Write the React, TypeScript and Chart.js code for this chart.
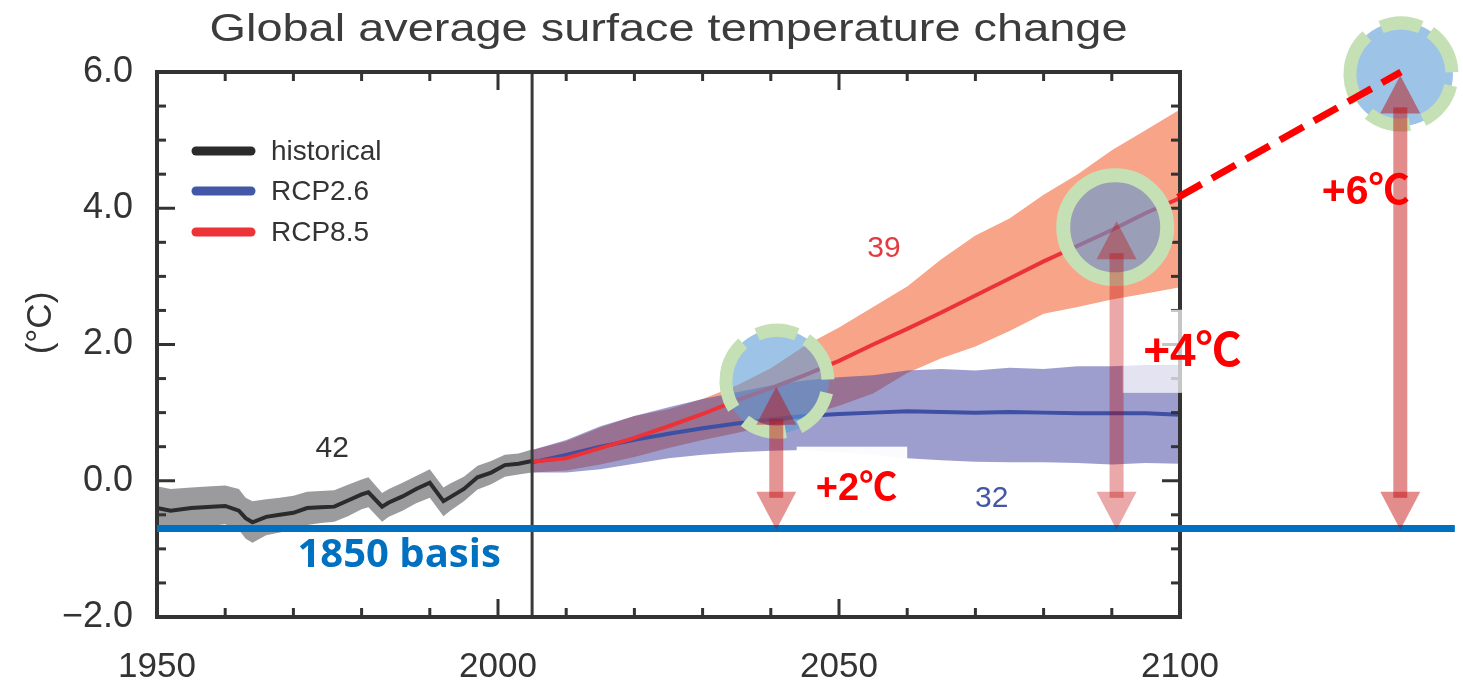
import React, { useEffect, useRef } from "react";
import { Chart, registerables } from "chart.js";

Chart.register(...registerables);

// ---------------- data ----------------
const histYears = [1950, 1952, 1955, 1958, 1960, 1962, 1963, 1964, 1966, 1968, 1970, 1972, 1974, 1976, 1978, 1980, 1981, 1983, 1984, 1986, 1988, 1990, 1992, 1993, 1995, 1997, 1999, 2001, 2003, 2005];
const histMean = [-0.40, -0.44, -0.40, -0.38, -0.37, -0.44, -0.55, -0.61, -0.53, -0.50, -0.47, -0.40, -0.39, -0.38, -0.29, -0.20, -0.17, -0.38, -0.32, -0.23, -0.12, -0.03, -0.30, -0.24, -0.12, 0.05, 0.12, 0.23, 0.25, 0.29];
const histHigh = [-0.08, -0.12, -0.10, -0.08, -0.07, -0.12, -0.25, -0.30, -0.27, -0.25, -0.22, -0.16, -0.15, -0.14, -0.06, 0.02, 0.05, -0.18, -0.12, -0.03, 0.07, 0.17, -0.10, -0.04, 0.06, 0.22, 0.29, 0.38, 0.40, 0.46];
const histLow = [-0.72, -0.72, -0.68, -0.66, -0.64, -0.72, -0.85, -0.91, -0.80, -0.76, -0.72, -0.65, -0.62, -0.60, -0.52, -0.42, -0.39, -0.60, -0.53, -0.44, -0.33, -0.25, -0.52, -0.44, -0.30, -0.13, -0.05, 0.06, 0.09, 0.12];

const projYears = [2005, 2010, 2015, 2020, 2025, 2030, 2035, 2040, 2045, 2050, 2055, 2060, 2065, 2070, 2075, 2080, 2085, 2090, 2095, 2100];
const rcp85Mean = [0.28, 0.33, 0.48, 0.63, 0.80, 0.98, 1.18, 1.36, 1.55, 1.76, 2.00, 2.23, 2.47, 2.72, 2.97, 3.22, 3.45, 3.68, 3.93, 4.15];
const rcp85High = [0.45, 0.58, 0.78, 0.95, 1.05, 1.20, 1.40, 1.65, 1.98, 2.25, 2.55, 2.85, 3.25, 3.60, 3.85, 4.20, 4.50, 4.85, 5.15, 5.45];
const rcp85Low = [0.12, 0.15, 0.24, 0.35, 0.48, 0.60, 0.70, 0.82, 0.95, 1.10, 1.28, 1.58, 1.80, 1.97, 2.20, 2.45, 2.55, 2.66, 2.75, 2.84];
const rcp26Mean = [0.27, 0.38, 0.50, 0.60, 0.69, 0.77, 0.84, 0.90, 0.95, 0.98, 1.00, 1.02, 1.01, 1.00, 1.01, 1.00, 0.99, 0.99, 0.99, 0.97];
const rcp26High = [0.45, 0.60, 0.80, 0.95, 1.08, 1.20, 1.30, 1.40, 1.47, 1.52, 1.55, 1.62, 1.64, 1.62, 1.66, 1.64, 1.68, 1.68, 1.70, 1.70];
const rcp26Low = [0.12, 0.12, 0.17, 0.25, 0.33, 0.38, 0.42, 0.44, 0.45, 0.42, 0.38, 0.33, 0.30, 0.28, 0.27, 0.27, 0.26, 0.24, 0.26, 0.25];

const xTicks = [1950, 2000, 2050, 2100];
const yTicks = [-2, 0, 2, 4, 6];

// ---------------- labels / annotations ----------------
const titleText = "Global average surface temperature change";
const yAxisTitle = "(°C)";
const legendLabels = ["historical", "RCP2.6", "RCP8.5"];
const countLabels = ["42", "39", "32"];
const countYears = [1975.7, 2056.6, 2072.4];
const countValues = [0.35, 3.28, -0.38];
const dividerYear = 2005;
const basisValue = -0.7;
const basisEndYear = 2140.3;
const basisLabel = "1850 basis";
const basisLabelYear = 1985.5;
const basisLabelValue = -1.26;
const targetYears = [2040.9, 2090.5, 2132.4];
const targetValues = [1.46, 3.72, 5.97];
const arrowYears = [2040.8, 2090.7, 2132.3];
const arrowTopValues = [1.38, 3.81, 5.95];
const arrowBottomValue = -0.72;
const warmingLabels = ["+2℃", "+4℃", "+6℃"];
const warmingLabelYears = [2046.6, 2094.6, 2120.8];
const warmingLabelValues = [-0.28, 1.69, 4.06];
const extrapolationYears = [2099.7, 2132.4];
const extrapolationValues = [4.16, 6.0];
const patchYears = [[2043.8, 2060.0], [2091.6, 2100.3]];
const patchValues = [[0.5, 0.24], [2.51, 1.29]];

// ---------------- styles ----------------
const FONT = "'Liberation Sans', Arial, Helvetica, sans-serif";
const SYM_FONT = "'Liberation Sans', Arial, 'Noto Sans CJK SC', 'DejaVu Sans', sans-serif";
const AXIS_COLOR = "#333333";
const HIST_COLOR = "#2b2b2b";
const RCP26_COLOR = "#3d50a3";
const RCP85_COLOR = "#ec3237";
const legendColors = [HIST_COLOR, "#4357a7", "#ee3338"];
const countColors = ["#333333", "#e53a3f", "#4457a5"];
const warmingFonts = [38, 46, 41];
const arrowAlphas = [0.42, 0.34, 0.45];
const targetDashed = [true, false, true];

const pts = (xs: number[], ys: number[]) => xs.map((x, i) => ({ x, y: ys[i] }));

const lineDs = (label: string, xs: number[], ys: number[], color: string) => ({
  label,
  data: pts(xs, ys),
  borderColor: color,
  borderWidth: 4,
  pointRadius: 0,
  pointHitRadius: 0,
  tension: 0,
  fill: false,
});

const bandDs = (label: string, xs: number[], ys: number[], color: string | null) => ({
  label,
  data: pts(xs, ys),
  borderColor: "rgba(0,0,0,0)",
  borderWidth: 0,
  pointRadius: 0,
  pointHitRadius: 0,
  tension: 0,
  backgroundColor: color || "rgba(0,0,0,0)",
  fill: color ? "+1" : false,
});

function drawArrow(ctx: CanvasRenderingContext2D, x: number, yTop: number, yBot: number, alpha: number) {
  const headL = 38;
  const headW = 40;
  const shaftW = 14;
  const overlap = 6;
  ctx.fillStyle = `rgba(192,0,0,${alpha})`;
  ctx.beginPath();
  ctx.moveTo(x, yTop);
  ctx.lineTo(x - headW / 2, yTop + headL);
  ctx.lineTo(x + headW / 2, yTop + headL);
  ctx.closePath();
  ctx.fill();
  ctx.beginPath();
  ctx.moveTo(x, yBot);
  ctx.lineTo(x - headW / 2, yBot - headL);
  ctx.lineTo(x + headW / 2, yBot - headL);
  ctx.closePath();
  ctx.fill();
  const s0 = yTop + headL - overlap;
  const s1 = yBot - headL + overlap;
  ctx.fillRect(x - shaftW / 2, s0, shaftW, s1 - s0);
}

const dashSegments = [[-113, -67], [-55, -2], [13, 64], [80, 129], [148, 228]];

function drawTarget(ctx: CanvasRenderingContext2D, cx: number, cy: number, dashed: boolean) {
  ctx.fillStyle = "rgba(91,155,213,0.6)";
  ctx.beginPath();
  ctx.arc(cx, cy, dashed ? 52 : 50, 0, Math.PI * 2);
  ctx.fill();
  ctx.strokeStyle = "#C5E0B4";
  ctx.lineCap = "butt";
  if (dashed) {
    ctx.lineWidth = 13;
    for (const [a0, a1] of dashSegments) {
      ctx.beginPath();
      ctx.arc(cx, cy, 51, (a0 * Math.PI) / 180, (a1 * Math.PI) / 180);
      ctx.stroke();
    }
  } else {
    ctx.lineWidth = 14;
    ctx.beginPath();
    ctx.arc(cx, cy, 52, 0, Math.PI * 2);
    ctx.stroke();
  }
}

const overlayPlugin = {
  id: "overlay",
  afterDraw(chart: any) {
    const { ctx, chartArea: ca, scales } = chart;
    const X = (v: number) => scales.x.getPixelForValue(v);
    const Y = (v: number) => scales.y.getPixelForValue(v);
    const seg = (x0: number, y0: number, x1: number, y1: number) => {
      ctx.beginPath();
      ctx.moveTo(x0, y0);
      ctx.lineTo(x1, y1);
      ctx.stroke();
    };
    ctx.save();

    // scenario divider
    ctx.strokeStyle = "#3a3a3a";
    ctx.lineWidth = 3;
    seg(X(dividerYear), ca.top, X(dividerYear), ca.bottom);

    // frame with inward ticks
    ctx.strokeStyle = AXIS_COLOR;
    ctx.lineWidth = 4;
    ctx.strokeRect(ca.left, ca.top, ca.right - ca.left, ca.bottom - ca.top);
    ctx.lineWidth = 3;
    const yMin = yTicks[0];
    const yMax = yTicks[yTicks.length - 1];
    for (let v = yMin; v <= yMax + 1e-9; v += 0.5) {
      const py = Y(v);
      const len = Math.abs(v % 2) < 1e-9 ? 18 : 9;
      seg(ca.left, py, ca.left + len, py);
      seg(ca.right, py, ca.right - len, py);
    }
    const xMin = xTicks[0];
    const xMax = xTicks[xTicks.length - 1];
    for (let yr = xMin; yr <= xMax; yr += 10) {
      const px = X(yr);
      const len = yr % 50 === 0 ? 18 : 9;
      seg(px, ca.bottom, px, ca.bottom - len);
      seg(px, ca.top, px, ca.top + len);
    }

    // 1850 basis line
    ctx.strokeStyle = "#0070C0";
    ctx.lineWidth = 7;
    seg(ca.left, Y(basisValue), X(basisEndYear), Y(basisValue));

    // white erasure patches
    ctx.fillStyle = "rgba(255,255,255,0.96)";
    ctx.fillRect(X(patchYears[0][0]), Y(patchValues[0][0]), X(patchYears[0][1]) - X(patchYears[0][0]), Y(patchValues[0][1]) - Y(patchValues[0][0]));
    ctx.fillStyle = "rgba(255,255,255,0.72)";
    ctx.fillRect(X(patchYears[1][0]), Y(patchValues[1][0]), X(patchYears[1][1]) - X(patchYears[1][0]), Y(patchValues[1][1]) - Y(patchValues[1][0]));

    // target circles
    for (let i = 0; i < targetYears.length; i++) {
      drawTarget(ctx, X(targetYears[i]), Y(targetValues[i]), targetDashed[i]);
    }

    // arrows
    for (let i = 0; i < arrowYears.length; i++) {
      drawArrow(ctx, X(arrowYears[i]), Y(arrowTopValues[i]), Y(arrowBottomValue), arrowAlphas[i]);
    }

    // dashed extrapolation
    ctx.strokeStyle = "#ff0000";
    ctx.lineWidth = 7;
    ctx.setLineDash([27, 12]);
    seg(X(extrapolationYears[0]), Y(extrapolationValues[0]), X(extrapolationYears[1]), Y(extrapolationValues[1]));
    ctx.setLineDash([]);

    // title
    ctx.fillStyle = "#3c3c3c";
    ctx.font = `38px ${FONT}`;
    ctx.textAlign = "center";
    ctx.textBaseline = "alphabetic";
    const tw = ctx.measureText(titleText).width;
    ctx.save();
    ctx.translate((ca.left + ca.right) / 2, 41);
    ctx.scale(918 / tw, 1);
    ctx.fillText(titleText, 0, 0);
    ctx.restore();

    // y axis title
    ctx.save();
    ctx.translate(41, 323);
    ctx.rotate(-Math.PI / 2);
    ctx.fillStyle = AXIS_COLOR;
    ctx.font = `35px ${FONT}`;
    ctx.textAlign = "center";
    ctx.textBaseline = "middle";
    ctx.fillText(yAxisTitle, 0, 0);
    ctx.restore();

    // legend
    const legendY = [ca.top + 79, ca.top + 119, ca.top + 160];
    ctx.lineCap = "round";
    ctx.lineWidth = 9;
    ctx.font = `28px ${FONT}`;
    ctx.textAlign = "left";
    ctx.textBaseline = "middle";
    for (let i = 0; i < legendLabels.length; i++) {
      ctx.strokeStyle = legendColors[i];
      seg(ca.left + 39, legendY[i], ca.left + 94, legendY[i]);
      ctx.fillStyle = AXIS_COLOR;
      ctx.fillText(legendLabels[i], ca.left + 114, legendY[i] + 1);
    }
    ctx.lineCap = "butt";

    // model counts
    ctx.font = `30px ${FONT}`;
    ctx.textAlign = "center";
    ctx.textBaseline = "alphabetic";
    for (let i = 0; i < countLabels.length; i++) {
      ctx.fillStyle = countColors[i];
      ctx.fillText(countLabels[i], X(countYears[i]), Y(countValues[i]));
    }

    // warming labels
    ctx.fillStyle = "#ff0000";
    ctx.textAlign = "left";
    for (let i = 0; i < warmingLabels.length; i++) {
      ctx.font = `bold ${warmingFonts[i]}px ${SYM_FONT}`;
      ctx.fillText(warmingLabels[i], X(warmingLabelYears[i]), Y(warmingLabelValues[i]));
    }

    // basis label
    ctx.fillStyle = "#0070C0";
    ctx.font = `bold 40px 'Open Sans', ${FONT}`;
    ctx.textAlign = "center";
    ctx.fillText(basisLabel, X(basisLabelYear), Y(basisLabelValue));

    ctx.restore();
  },
};

export default function App() {
  const ref = useRef<HTMLCanvasElement>(null);

  useEffect(() => {
    if (!ref.current) return;
    Chart.defaults.font.family = FONT;
    const chart = new Chart(ref.current, {
      type: "line",
      data: {
        datasets: [
          lineDs("historical", histYears, histMean, HIST_COLOR),
          lineDs("RCP8.5", projYears, rcp85Mean, RCP85_COLOR),
          lineDs("RCP2.6", projYears, rcp26Mean, RCP26_COLOR),
          bandDs("RCP2.6 range", projYears, rcp26High, "rgba(60,62,158,0.5)"),
          bandDs("RCP2.6 low", projYears, rcp26Low, null),
          bandDs("RCP8.5 range", projYears, rcp85High, "#f7a488"),
          bandDs("RCP8.5 low", projYears, rcp85Low, null),
          bandDs("historical range", histYears, histHigh, "#9b9b9d"),
          bandDs("historical low", histYears, histLow, null),
        ] as any,
      },
      options: {
        responsive: false,
        animation: false,
        events: [],
        layout: { padding: { top: 72, right: 283, bottom: 0, left: 0 } },
        plugins: {
          legend: { display: false },
          title: { display: false },
          tooltip: { enabled: false },
        },
        scales: {
          x: {
            type: "linear",
            min: xTicks[0],
            max: xTicks[xTicks.length - 1],
            afterFit: (s: any) => {
              s.height = 70;
            },
            afterBuildTicks: (s: any) => {
              s.ticks = xTicks.map((v) => ({ value: v }));
            },
            ticks: {
              callback: (v: any) => String(v),
              font: { size: 35 },
              color: AXIS_COLOR,
              padding: 29,
              maxRotation: 0,
              autoSkip: false,
            },
            grid: { display: false, drawTicks: false },
            border: { display: false },
          },
          y: {
            type: "linear",
            min: yTicks[0],
            max: yTicks[yTicks.length - 1],
            afterFit: (s: any) => {
              s.width = 157;
            },
            afterBuildTicks: (s: any) => {
              s.ticks = yTicks.map((v) => ({ value: v }));
            },
            ticks: {
              callback: (v: any) => (v < 0 ? "\u2212" : "") + Math.abs(v).toFixed(1),
              font: { size: 36 },
              color: AXIS_COLOR,
              padding: 24,
            },
            grid: { display: false, drawTicks: false },
            border: { display: false },
          },
        },
      } as any,
      plugins: [overlayPlugin],
    });
    return () => chart.destroy();
  }, []);

  return (
    <div style={{ position: "absolute", left: 0, top: 0, width: 1463, height: 687, background: "#ffffff" }}>
      <canvas ref={ref} width={1463} height={687} style={{ display: "block" }} />
    </div>
  );
}
